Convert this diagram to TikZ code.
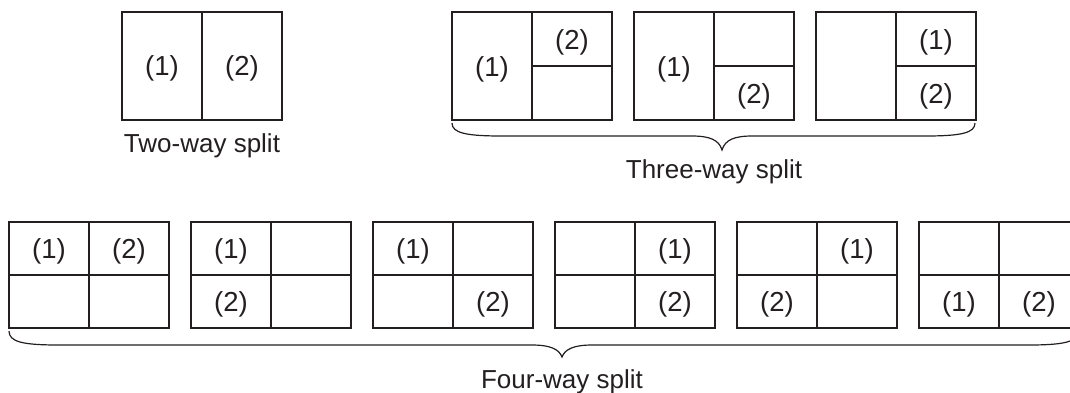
\documentclass[tikz,border=0pt]{standalone}
\usepackage{fontspec}
\setmainfont{Liberation Sans}
\definecolor{ink}{HTML}{231F20}
\newcommand\mybrace[6]{% xL, xR, xTip, yTop, yH, yTip
  \draw[bracepath] (#1,#4) .. controls (#1,{#5-3}) and ({#1+14},#5) .. ({#1+50},#5)
    -- ({#3-30},#5) .. controls ({#3-12},#5) and ({#3-3},{#5+4}) .. (#3,#6)
    .. controls ({#3+3},{#5+4}) and ({#3+12},#5) .. ({#3+30},#5)
    -- ({#2-50},#5) .. controls ({#2-14},#5) and (#2,{#5-3}) .. (#2,#4);}
\newcommand\panel[1]{% left x of a four-way panel
  \draw[frame] (#1,222) rectangle ({#1+160},328);
  \draw[frame] ({#1+80},222) -- ({#1+80},328);
  \draw[frame] (#1,275) -- ({#1+160},275);}
\begin{document}
\begin{tikzpicture}[x=1pt,y=-1pt,
  frame/.style={draw=ink,line width=2.4pt},
  lbl/.style={font=\fontsize{27.5}{32}\selectfont,text=ink,inner sep=0pt},
  captxt/.style={font=\fontsize{26}{30}\selectfont,text=ink,inner sep=0pt,anchor=base},
  bracepath/.style={draw=ink,line width=1.2pt}]
\useasboundingbox (0,0) rectangle (1070,392);

% Two-way
\draw[frame] (122,12) rectangle (282,120);
\draw[frame] (202,12) -- (202,120);
\node[lbl] (a1) at (162,68) {(1)};
\node[lbl] (a2) at (242,68) {(2)};
\node[captxt] (acap) at (202,152) {Two-way split};

% Three-way
\draw[frame] (452,12) rectangle (612,120);
\draw[frame] (532,12) -- (532,120);
\draw[frame] (532,66) -- (612,66);
\node[lbl] (b1) at (492,69) {(1)};
\node[lbl] (b2) at (572,42) {(2)};

\draw[frame] (634,12) rectangle (794,120);
\draw[frame] (714,12) -- (714,120);
\draw[frame] (714,66) -- (794,66);
\node[lbl] (c1) at (674,69) {(1)};
\node[lbl] (c2) at (754,96) {(2)};

\draw[frame] (816,12) rectangle (976,120);
\draw[frame] (896,12) -- (896,120);
\draw[frame] (896,66) -- (976,66);
\node[lbl] (d1) at (936,42) {(1)};
\node[lbl] (d2) at (936,96) {(2)};

\mybrace{452}{975}{722}{123}{136}{150}
\node[captxt] (bcap) at (714,178) {Three-way split};

% Four-way
\panel{9}\panel{191}\panel{373}\panel{555}\panel{737}\panel{919}
\node[lbl] (e1) at (49,251.5) {(1)};
\node[lbl] (e2) at (129,251.5) {(2)};
\node[lbl] (f1) at (231,251.5) {(1)};
\node[lbl] (f2) at (231,304.5) {(2)};
\node[lbl] (g1) at (413,251.5) {(1)};
\node[lbl] (g2) at (493,304.5) {(2)};
\node[lbl] (h1) at (675,251.5) {(1)};
\node[lbl] (h2) at (675,304.5) {(2)};
\node[lbl] (i1) at (857,251.5) {(1)};
\node[lbl] (i2) at (777,304.5) {(2)};
\node[lbl] (j1) at (959,304.5) {(1)};
\node[lbl] (j2) at (1039,304.5) {(2)};

\mybrace{9}{1078}{562}{331}{345}{357}
\node[captxt] (ccap) at (562,388) {Four-way split};
\end{tikzpicture}
\end{document}
